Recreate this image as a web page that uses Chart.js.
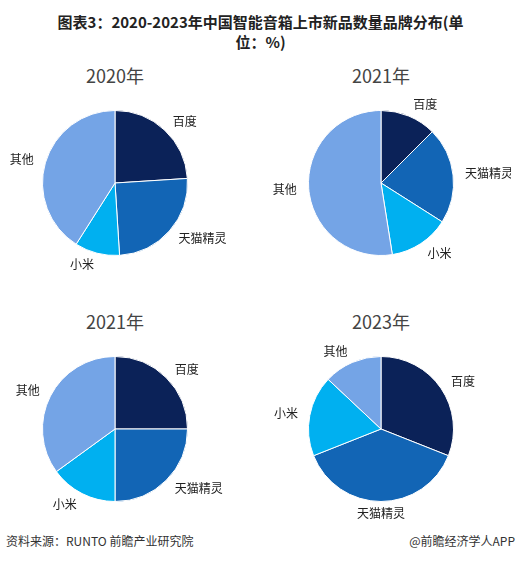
<!DOCTYPE html>
<html><head><meta charset="utf-8">
<script src="https://cdn.jsdelivr.net/npm/chart.js@4"></script>
<style>
body{margin:0;width:521px;height:562px;background:#fff;font-family:"Noto Sans CJK SC",sans-serif;position:relative;overflow:hidden}
#title{position:absolute;left:0;top:12px;width:521px;text-align:center;font-weight:bold;font-size:15px;line-height:20px;color:#222}
.sub{position:absolute;width:200px;text-align:center;font-size:18px;color:#444}
.box{position:absolute;width:260px;height:200px}
canvas{display:block;width:260px;height:200px}
#foot{position:absolute;top:532px;left:6px;font-size:12px;color:#333}
#foot2{position:absolute;top:532px;right:6px;font-size:12px;color:#333}
</style></head><body>
<div id="title">图表3：2020-2023年中国智能音箱上市新品数量品牌分布(单<br>位：%)</div>
<div class="sub" style="left:15px;top:62px">2020年</div>
<div class="sub" style="left:281px;top:62px">2021年</div>
<div class="sub" style="left:15px;top:308px">2021年</div>
<div class="sub" style="left:281px;top:308px">2023年</div>
<div class="box" style="left:-15px;top:83px"><canvas id="c0" width="260" height="200"></canvas></div>
<div class="box" style="left:251px;top:83px"><canvas id="c1" width="260" height="200"></canvas></div>
<div class="box" style="left:-15px;top:329px"><canvas id="c2" width="260" height="200"></canvas></div>
<div class="box" style="left:251px;top:329px"><canvas id="c3" width="260" height="200"></canvas></div>
<div id="foot">资料来源：RUNTO 前瞻产业研究院</div>
<div id="foot2">@前瞻经济学人APP</div>
<script>
const brands = ['百度', '天猫精灵', '小米', '其他'];
const colors = ['#0b2258', '#1265b5', '#00b0f0', '#74a4e6'];
const share2020 = [24, 25, 10, 41];
const share2021a = [12.5, 21.5, 13.5, 52.5];
const share2021b = [25, 25, 15, 35];
const share2023 = [31, 38, 18, 13];
const allShares = [share2020, share2021a, share2021b, share2023];

const outLabels = {
  id: 'outLabels',
  afterDraw(chart) {
    const ctx = chart.ctx;
    const meta = chart.getDatasetMeta(0);
    ctx.save();
    ctx.font = '12px "Noto Sans CJK SC"';
    ctx.fillStyle = '#222';
    ctx.textBaseline = 'middle';
    meta.data.forEach((arc, i) => {
      const mid = (arc.startAngle + arc.endAngle) / 2;
      const r = arc.outerRadius + 12;
      const x = arc.x + Math.cos(mid) * r;
      const y = arc.y + Math.sin(mid) * r;
      ctx.textAlign = Math.cos(mid) > 0.15 ? 'left' : (Math.cos(mid) < -0.15 ? 'right' : 'center');
      ctx.fillText(chart.data.labels[i], x, y);
    });
    ctx.restore();
  }
};

allShares.forEach((vals, k) => {
  new Chart(document.getElementById('c' + k), {
    type: 'pie',
    data: { labels: brands, datasets: [{ data: vals, backgroundColor: colors, borderColor: '#fff', borderWidth: 1 }] },
    options: {
      responsive: false, animation: false, devicePixelRatio: 1,
      layout: { padding: { top: 27, bottom: 27 } },
      plugins: { legend: { display: false }, tooltip: { enabled: false } }
    },
    plugins: [outLabels]
  });
});
</script>
</body></html>
